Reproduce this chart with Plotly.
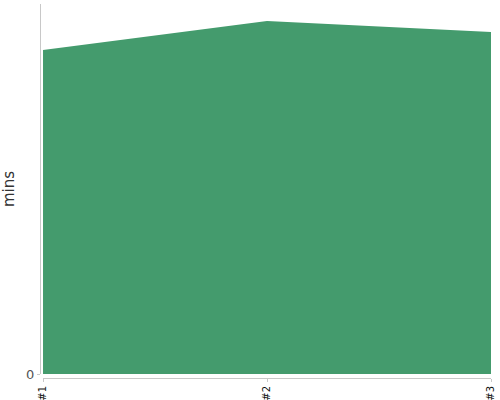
import plotly.graph_objects as go

runs = ["#1", "#2", "#3"]
mins = [43.8, 47.7, 46.2]

fig = go.Figure()
fig.add_trace(
    go.Scatter(
        x=runs,
        y=mins,
        mode="lines",
        fill="tozeroy",
        fillcolor="#449b6d",
        line={"width": 0, "color": "#449b6d"},
        hoverinfo="x+y",
    )
)

fig.update_layout(
    width=500,
    height=400,
    margin={"l": 40, "r": 9, "t": 4, "b": 22},
    plot_bgcolor="white",
    paper_bgcolor="white",
    showlegend=False,
    font={"family": "DejaVu Sans", "color": "#444"},
)
fig.update_xaxes(
    domain=[0.0067, 1],
    anchor="free",
    position=0,
    range=[0, 2],
    automargin=False,
    showgrid=False,
    zeroline=False,
    showline=True,
    linecolor="#c8c8c8",
    linewidth=1,
    ticks="outside",
    ticklen=3,
    tickcolor="#c8c8c8",
    tickangle=-90,
    tickfont={"size": 10, "color": "#111"},
)
fig.update_yaxes(
    domain=[0.0107, 1],
    anchor="free",
    position=0,
    range=[0, 50],
    automargin=False,
    tickvals=[0],
    showgrid=False,
    zeroline=False,
    showline=True,
    linecolor="#c8c8c8",
    linewidth=1,
    ticks="outside",
    ticklen=3,
    tickcolor="#c8c8c8",
    tickfont={"size": 13, "color": "#555"},
    title={"text": "mins", "font": {"size": 15, "color": "#333"}, "standoff": 8},
)

# browser's default body margin would shift the figure by 8px
fig.write_html(
    "out.html",
    config={"displayModeBar": False},
    post_script="document.body.style.margin = '0';",
)
